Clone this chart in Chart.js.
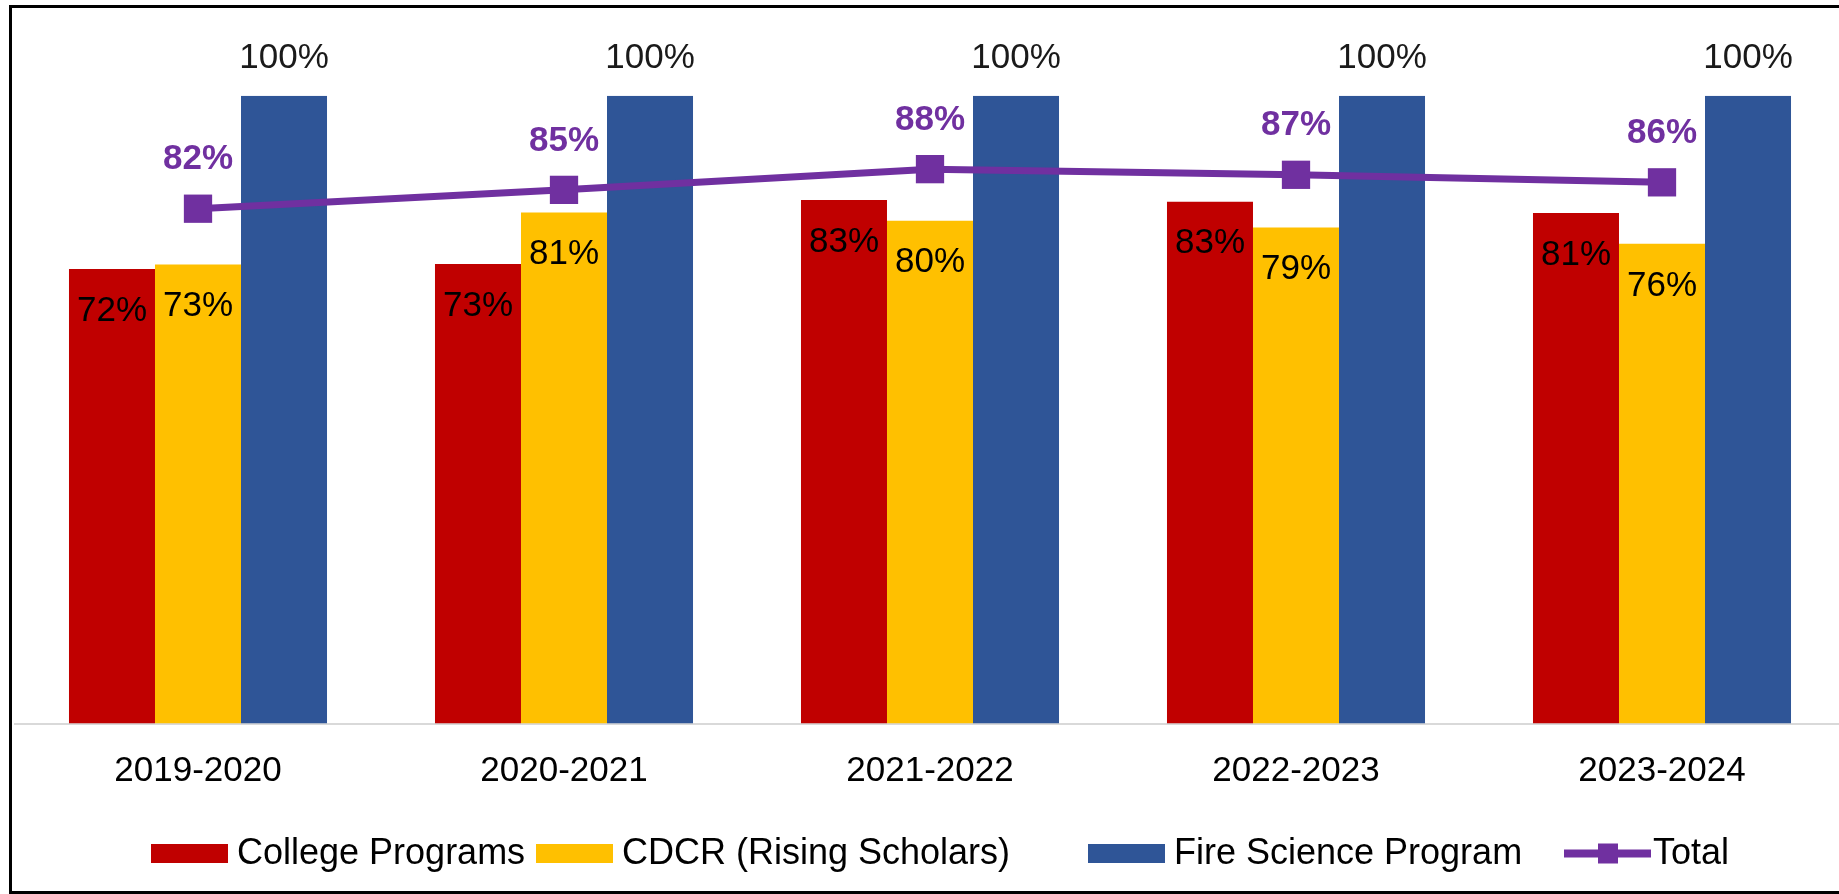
<!DOCTYPE html>
<html>
<head>
<meta charset="utf-8">
<title>Completion rates</title>
<script src="https://cdn.jsdelivr.net/npm/chart.js@4.4.1/dist/chart.umd.min.js"></script>
<style>
    html, body { margin: 0; padding: 0; background: #fff; overflow: hidden; }
    /* marco negro alrededor del gráfico (el borde derecho queda fuera de la imagen) */
    #marco { position: absolute; left: 9px; top: 5px; width: 1900px; height: 889px; border: 3px solid #000; box-sizing: border-box; }
    #contenedor { position: absolute; left: 0; top: 0; width: 1846px; height: 894px; }
</style>
</head>
<body>
<div id="marco"></div>
<div id="contenedor"><canvas id="graficoCompletacion" width="1846" height="894"></canvas></div>
<script>
// Datos (porcentajes)
const periodos = ['2019-2020', '2020-2021', '2021-2022', '2022-2023', '2023-2024'];
const programasUniversitarios = [72.4, 73.2, 83.4, 83.1, 81.3];
const cdcrRisingScholars = [73.1, 81.4, 80.1, 79.0, 76.4];
const cienciaFuego = [100, 100, 100, 100, 100];
const totalGeneral = [82.0, 85.0, 88.3, 87.4, 86.2];

const fuente = '"Liberation Sans", Arial, sans-serif';
const morado = '#7030A0';

// Etiquetas de datos dibujadas a mano (sin plugin externo)
const etiquetasPlugin = {
    id: 'etiquetasDatos',
    afterDatasetsDraw(chart) {
        const ctx = chart.ctx;
        ctx.save();
        ctx.textAlign = 'center';
        ctx.textBaseline = 'middle';
        chart.data.datasets.forEach((ds, i) => {
            const meta = chart.getDatasetMeta(i);
            meta.data.forEach((el, j) => {
                const texto = Math.round(ds.data[j]) + '%';
                if (ds.type === 'line') {
                    ctx.font = 'bold 35px ' + fuente;
                    ctx.fillStyle = morado;
                    ctx.fillText(texto, el.x, el.y - 49);
                } else if (ds.posicionEtiqueta === 'encima') {
                    ctx.font = '35px ' + fuente;
                    ctx.fillStyle = '#1a1a1a';
                    ctx.fillText(texto, el.x, el.y - 37);
                } else {
                    ctx.font = '35px ' + fuente;
                    ctx.fillStyle = '#000';
                    ctx.fillText(texto, el.x, el.y + 42);
                }
            });
        });
        ctx.restore();
    }
};

// Leyenda al estilo Excel
const leyendaPlugin = {
    id: 'leyendaPersonalizada',
    afterDraw(chart) {
        const ctx = chart.ctx;
        const inicios = [151, 536, 1088, 1564];
        const yCaja = 853.5;
        const yTexto = 854;
        ctx.save();
        ctx.font = '36px ' + fuente;
        ctx.textBaseline = 'middle';
        ctx.textAlign = 'left';
        chart.data.datasets.forEach((ds, i) => {
            const x = inicios[i];
            if (ds.type === 'line') {
                ctx.strokeStyle = ds.borderColor;
                ctx.lineWidth = 8;
                ctx.beginPath();
                ctx.moveTo(x, yCaja);
                ctx.lineTo(x + 87, yCaja);
                ctx.stroke();
                ctx.fillStyle = ds.borderColor;
                ctx.fillRect(x + 34, yCaja - 10, 20, 20);
                ctx.fillStyle = '#000';
                ctx.fillText(ds.label, x + 89, yTexto);
            } else {
                ctx.fillStyle = ds.backgroundColor;
                ctx.fillRect(x, yCaja - 9.5, 77, 19);
                ctx.fillStyle = '#000';
                ctx.fillText(ds.label, x + 86, yTexto);
            }
        });
        ctx.restore();
    }
};

const ctx = document.getElementById('graficoCompletacion').getContext('2d');

new Chart(ctx, {
    type: 'bar',
    data: {
        labels: periodos,
        datasets: [
            {
                label: 'College Programs',
                data: programasUniversitarios,
                backgroundColor: '#C00000',
                order: 1
            },
            {
                label: 'CDCR (Rising Scholars)',
                data: cdcrRisingScholars,
                backgroundColor: '#FFC000',
                order: 1
            },
            {
                label: 'Fire Science Program',
                data: cienciaFuego,
                backgroundColor: '#2F5597',
                posicionEtiqueta: 'encima',
                order: 1
            },
            {
                type: 'line',
                label: 'Total',
                data: totalGeneral,
                borderColor: morado,
                backgroundColor: morado,
                borderWidth: 7,
                pointStyle: 'rect',
                pointRadius: 20,
                pointHoverRadius: 20,
                pointBorderWidth: 0,
                pointBackgroundColor: morado,
                tension: 0,
                clip: false,
                order: 0
            }
        ]
    },
    options: {
        responsive: false,
        animation: false,
        datasets: {
            bar: {
                barPercentage: 1,
                categoryPercentage: 0.705
            }
        },
        layout: {
            autoPadding: false,
            padding: { left: 15, right: 1, top: 95.7, bottom: 0 }
        },
        plugins: {
            legend: { display: false },
            tooltip: { enabled: false }
        },
        scales: {
            x: {
                grid: { display: false, drawTicks: false },
                border: { display: true, color: '#d9d9d9', width: 2 },
                ticks: {
                    color: '#000',
                    padding: 27,
                    font: { family: fuente, size: 35 }
                },
                afterFit: function(scale) {
                    scale.height = 170.5;
                    scale.paddingLeft = 0;
                    scale.paddingRight = 0;
                }
            },
            y: {
                display: false,
                min: 0,
                max: 100
            }
        }
    },
    plugins: [etiquetasPlugin, leyendaPlugin]
});
</script>
</body>
</html>
